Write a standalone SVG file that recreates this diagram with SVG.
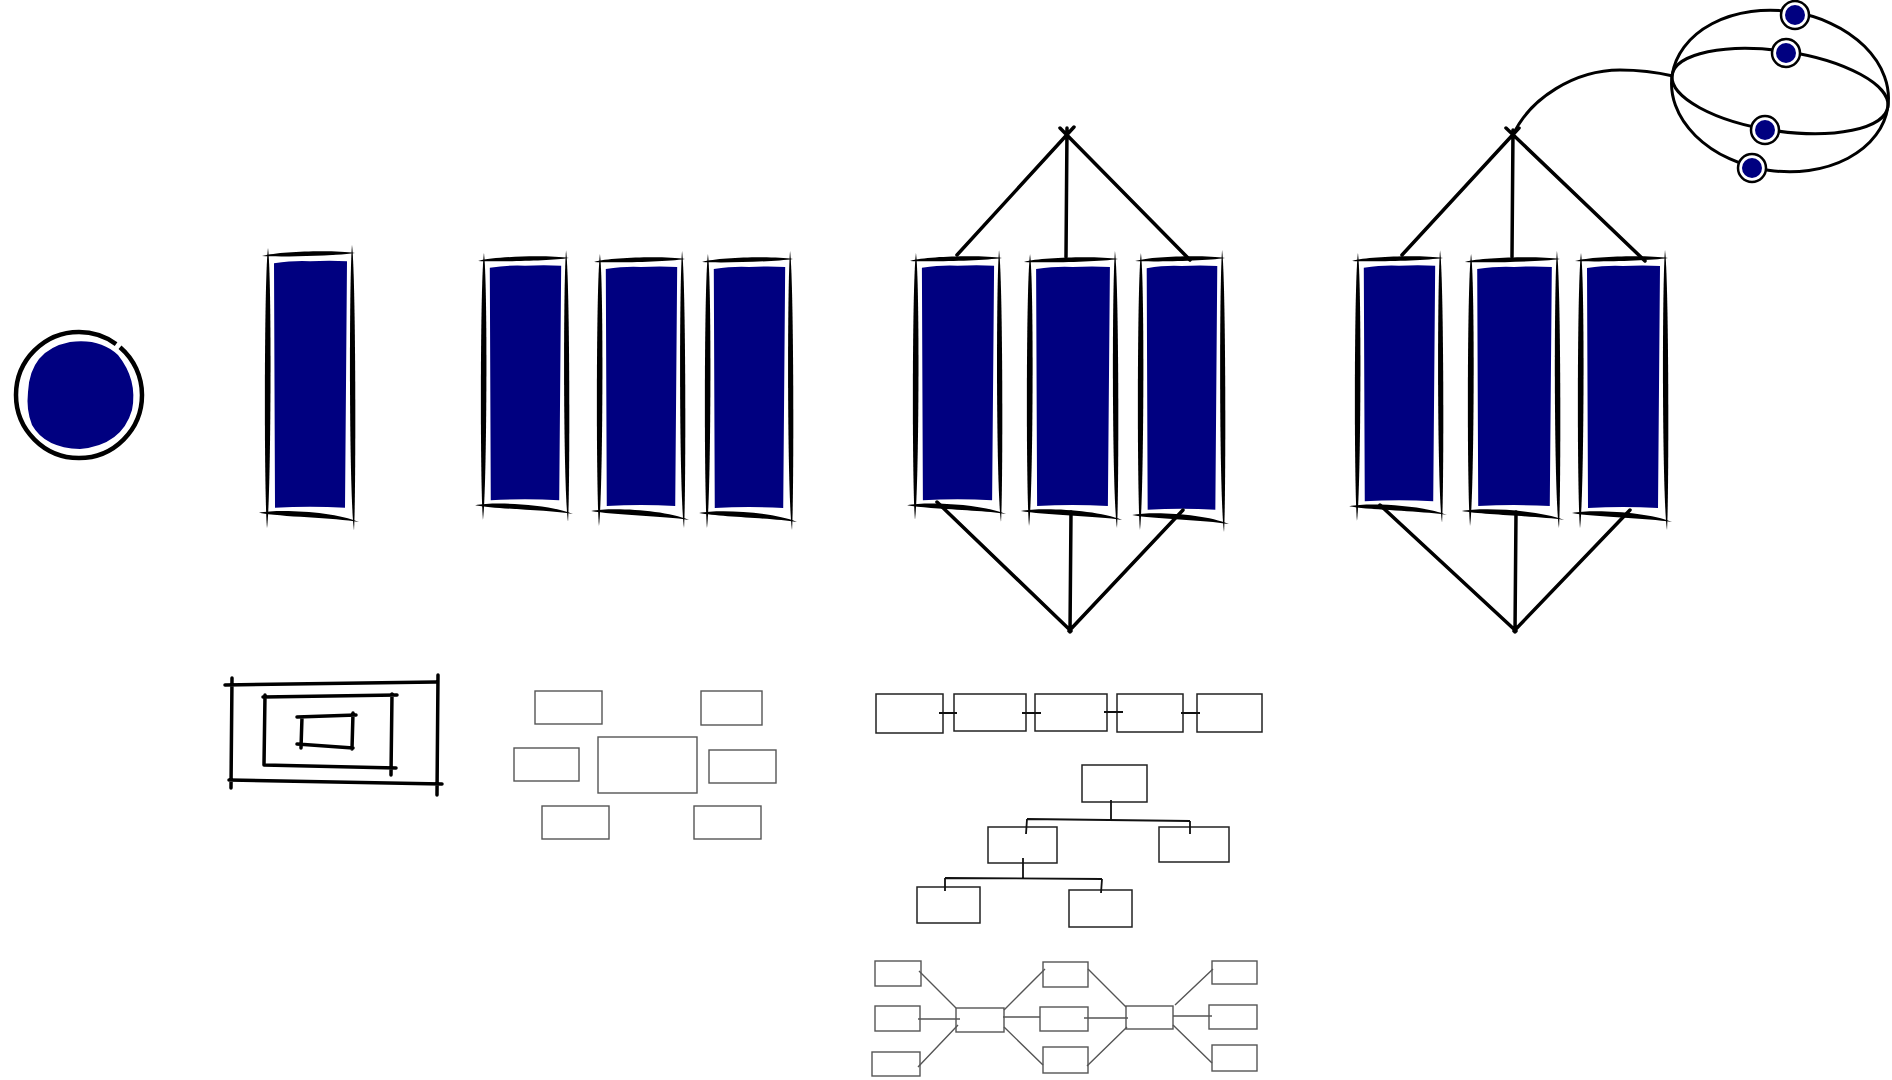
<svg xmlns="http://www.w3.org/2000/svg" width="1892" height="1080" viewBox="0 0 1892 1080">
<style>
.ink{fill:#000}
.navy{fill:#000080}
.line{stroke:#000;stroke-width:3.5;fill:none;stroke-linecap:round}
.ring{stroke:#000;stroke-width:3;fill:none}
.nest{stroke:#000;stroke-width:3.5;fill:none;stroke-linecap:round}
.gray{stroke:#555;stroke-width:1.4;fill:none}
.thin{stroke:#222;stroke-width:1.5;fill:none}
.tl{stroke:#111;stroke-width:1.8;fill:none}
.dotring{stroke:#000;stroke-width:2.5;fill:#fff}
</style>
<defs>
<symbol id="col" viewBox="0 0 90 262" preserveAspectRatio="none" overflow="visible">
<path class="navy" d="M9,11 Q30,8 45,9 Q65,8 82,9 L80,250 Q45,248 10,250 Z"/>
<path class="ink" d="M3,-4 C-1,25 -1,240 2,270 C6,240 7,25 3,-4 Z"/>
<path class="ink" d="M87,-7 C84,25 84,240 89,272 C91,240 91,25 87,-7 Z"/>
<path class="ink" d="M-3,4 C15,-1 70,-2 90,1 C70,4 15,5 -3,4 Z"/>
<path class="ink" d="M-6,255 C15,251 70,254 94,264 C70,260 15,259 -6,255 Z"/>
</symbol>
<symbol id="dot" viewBox="-16 -16 32 32">
<circle class="dotring" cx="0" cy="0" r="14"/>
<circle class="navy" cx="0" cy="0" r="10"/>
</symbol>
</defs>

<g id="circle-node">
<path class="navy" d="M28,392 Q30,350 70,342 Q100,338 118,355 Q138,380 132,410 Q122,445 80,449 Q45,448 32,425 Q26,410 28,392 Z"/>
<circle cx="79" cy="395" r="63" stroke="#000" stroke-width="4.5" fill="none" stroke-dasharray="336 5"/>
</g>

<g id="single-col"><use href="#col" x="265" y="252" width="90" height="268"/></g>

<g id="triple-a">
<g id="a1"><use href="#col" x="481" y="257" width="88" height="255"/></g>
<g id="a2"><use href="#col" x="597" y="258" width="88" height="260"/></g>
<g id="a3"><use href="#col" x="705" y="258" width="88" height="262"/></g>
</g>

<g id="triple-b">
<g id="b1"><use href="#col" x="913" y="257" width="89" height="255"/></g>
<g id="b2"><use href="#col" x="1027" y="258" width="91" height="260"/></g>
<g id="b3"><use href="#col" x="1138" y="257" width="87" height="265"/></g>
</g>

<g id="triple-c">
<g id="c1"><use href="#col" x="1355" y="257" width="88" height="256"/></g>
<g id="c2"><use href="#col" x="1468" y="258" width="92" height="260"/></g>
<g id="c3"><use href="#col" x="1578" y="257" width="90" height="263"/></g>
</g>

<g id="globe">
<ellipse class="ring" cx="1780" cy="91" rx="109" ry="80" transform="rotate(8.4 1780 91)"/>
<ellipse class="ring" cx="1780" cy="91" rx="109" ry="40" transform="rotate(8.4 1780 91)"/>
<g id="dot1"><use href="#dot" x="1779" y="-1" width="32" height="32"/></g>
<g id="dot2"><use href="#dot" x="1770" y="37" width="32" height="32"/></g>
<g id="dot3"><use href="#dot" x="1749" y="114" width="32" height="32"/></g>
<g id="dot4"><use href="#dot" x="1736" y="152" width="32" height="32"/></g>
</g>

<g id="nested">
<path class="nest" d="M225,685 L436,682 M438,675 L437,795 M229,780 L442,784 M232,678 L231,788"/>
<path class="nest" d="M263,697 L397,695 M392,694 L391,775 M264,765 L396,768 M265,695 L264,765" stroke-width="3"/>
<path class="nest" d="M297,717 L356,715 M353,713 L352,749 M297,744 L353,748 M302,717 L301,748" stroke-width="3"/>
</g>

<g id="cluster">
<g id="k1"><rect class="gray" x="535" y="691" width="67" height="33"/></g>
<g id="k2"><rect class="gray" x="701" y="691" width="61" height="34"/></g>
<g id="k3"><rect class="gray" x="514" y="748" width="65" height="33"/></g>
<g id="k4"><rect class="gray" x="598" y="737" width="99" height="56" stroke="#333" stroke-width="1.6"/></g>
<g id="k5"><rect class="gray" x="709" y="750" width="67" height="33"/></g>
<g id="k6"><rect class="gray" x="542" y="806" width="67" height="33"/></g>
<g id="k7"><rect class="gray" x="694" y="806" width="67" height="33"/></g>
</g>

<g id="chain">
<g id="ch1"><rect class="thin" x="876" y="694" width="67" height="39"/></g>
<g id="ch2"><rect class="thin" x="954" y="694" width="72" height="37"/></g>
<g id="ch3"><rect class="thin" x="1035" y="694" width="72" height="37"/></g>
<g id="ch4"><rect class="thin" x="1117" y="694" width="66" height="38"/></g>
<g id="ch5"><rect class="thin" x="1197" y="694" width="65" height="38"/></g>
</g>

<g id="tree">
<g id="t-root"><rect class="thin" x="1082" y="765" width="65" height="37"/></g>
<g id="t-l"><rect class="thin" x="988" y="827" width="69" height="36"/></g>
<g id="t-r"><rect class="thin" x="1159" y="827" width="70" height="35"/></g>
<g id="t-ll"><rect class="thin" x="917" y="887" width="63" height="36"/></g>
<g id="t-lr"><rect class="thin" x="1069" y="890" width="63" height="37"/></g>
</g>

<g id="network">
<g id="n-l1"><rect class="gray" x="875" y="961" width="46" height="25"/></g>
<g id="n-l2"><rect class="gray" x="875" y="1006" width="45" height="25"/></g>
<g id="n-l3"><rect class="gray" x="872" y="1052" width="48" height="24"/></g>
<g id="n-h1"><rect class="gray" x="956" y="1008" width="48" height="24"/></g>
<g id="n-m1"><rect class="gray" x="1043" y="962" width="45" height="25"/></g>
<g id="n-m2"><rect class="gray" x="1040" y="1007" width="48" height="24"/></g>
<g id="n-m3"><rect class="gray" x="1043" y="1047" width="45" height="26"/></g>
<g id="n-h2"><rect class="gray" x="1126" y="1006" width="47" height="23"/></g>
<g id="n-r1"><rect class="gray" x="1212" y="961" width="45" height="23"/></g>
<g id="n-r2"><rect class="gray" x="1209" y="1005" width="48" height="24"/></g>
<g id="n-r3"><rect class="gray" x="1212" y="1045" width="45" height="26"/></g>
</g>

<g id="connectors">
<path class="line" d="M957,255 L1074,127 M1066,257 L1067,128 M1190,260 L1060,128"/>
<path class="line" d="M937,502 L1071,631 M1071,512 L1070,632 M1183,510 L1069,631"/>
<path class="line" d="M1402,255 L1519,128 M1512,257 L1513,130 M1645,261 L1506,128"/>
<path class="line" d="M1380,505 L1516,631 M1516,512 L1515,632 M1630,510 L1514,631"/>
<path class="ring" d="M1513,135 C1530,98 1575,70 1620,70 C1645,70 1660,73 1673,76"/>
<path class="tl" d="M939,713 L957,713 M1022,713 L1041,713 M1104,712 L1123,712 M1181,713 L1200,713"/>
<path class="tl" d="M1111,800 L1111,820 M1027,819 L1190,821 M1027,819 L1026,834 M1190,821 L1190,834"/>
<path class="tl" d="M1023,858 L1023,878 M945,878 L1102,879 M945,878 L945,891 M1102,879 L1101,893"/>
<path class="gray" stroke="#333" d="M919,971 L956,1008 M918,1019 L960,1019 M918,1067 L958,1025 M1004,1010 L1045,969 M1003,1017 L1040,1017 M1004,1027 L1043,1065 M1088,969 L1126,1007 M1084,1018 L1128,1018 M1087,1066 L1127,1027 M1175,1005 L1213,969 M1173,1016 L1212,1016 M1173,1025 L1212,1063"/>
</g>
</svg>
